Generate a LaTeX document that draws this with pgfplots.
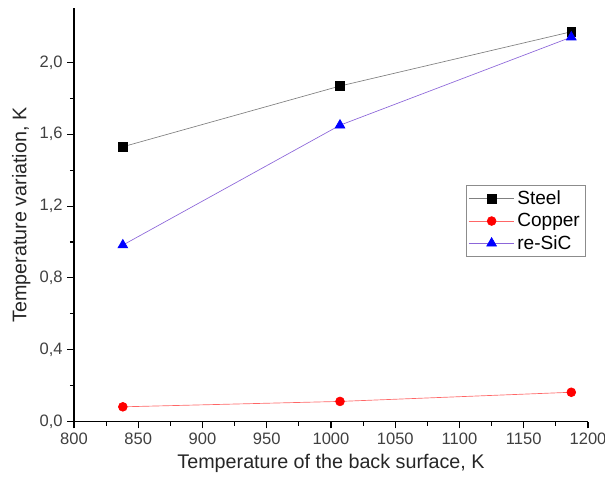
\documentclass[border=0pt]{standalone}
\usepackage{fontspec}
\setmainfont{Liberation Sans}
\usepackage{pgfplots}
\pgfplotsset{compat=1.18}
\begin{document}
\begin{tikzpicture}
\path[use as bounding box] (-55.5pt,-49.7pt) rectangle (398.25pt,316.3pt);
\begin{axis}[
 at={(0,0)}, anchor=south west,
 scale only axis, width=385.5pt, height=310pt,
 xmin=800, xmax=1200, ymin=0, ymax=2.3,
 axis x line=bottom, axis y line=left,
 axis line style={-, line width=0.8pt},
 xtick={800,850,900,950,1000,1050,1100,1150,1200},
 ytick={0,0.4,0.8,1.2,1.6,2.0},
 minor x tick num=1, minor y tick num=1,
 tick align=outside, major tick length=5pt, minor tick length=3pt,
 tick style={line width=0.8pt, black},
 /pgf/number format/assume math mode=true,
 xticklabel style={/pgf/number format/.cd, set thousands separator={}},
 yticklabel style={/pgf/number format/.cd, fixed, fixed zerofill, precision=1, use comma},
 tick label style={font=\fontsize{12.4}{14}\selectfont, text=black!75},
 label style={font=\fontsize{14.8}{17}\selectfont, text=black!85},
 xlabel={Temperature of the back surface, K},
 ylabel={Temperature variation, K},
 legend style={at={(0.995,0.572)}, anchor=north east, draw=black!45, font=\fontsize{14.3}{16}\selectfont, row sep=1pt, inner sep=2pt},
 legend cell align=left,
 legend image code/.code={\draw[mark repeat=2,mark phase=2] plot coordinates {(0pt,0pt) (17pt,0pt) (34pt,0pt)};},
]
\addplot[color=black!50, line width=0.5pt, mark=square*, mark size=3.2pt, mark options={fill=black, draw=black}] coordinates {(838,1.53) (1007,1.868) (1187,2.17)};
\addlegendentry{Steel}
\addplot[color=red!60, line width=0.5pt, mark=*, mark size=3.3pt, mark options={fill=red, draw=red}] coordinates {(838,0.083) (1007,0.113) (1187,0.164)};
\addlegendentry{Copper}
\addplot[color=blue!50!violet!60, line width=0.5pt, mark=triangle*, mark size=4.2pt, mark options={fill=blue, draw=blue}] coordinates {(838,0.983) (1007,1.65) (1187,2.14)};
\addlegendentry{re-SiC}
\end{axis}
\end{tikzpicture}
\end{document}
